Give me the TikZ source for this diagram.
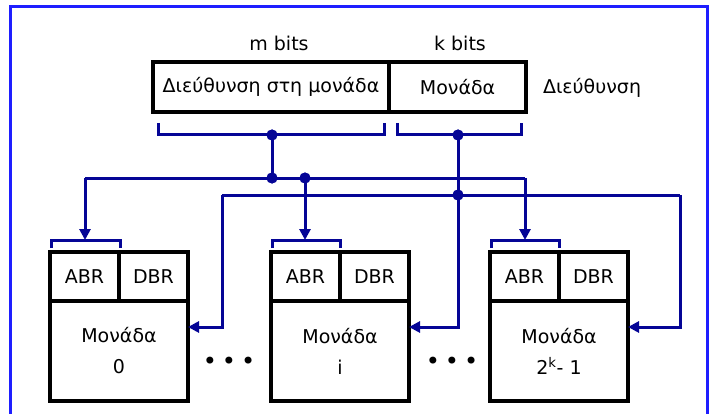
\documentclass[tikz,border=0pt]{standalone}
\usepackage{fontspec}
\setmainfont{DejaVu Sans}
\usetikzlibrary{arrows.meta}
\definecolor{busblue}{RGB}{5,5,150}
\definecolor{frameblue}{RGB}{30,30,255}
\begin{document}
\begin{tikzpicture}[x=1pt,y=-1pt,
  txt/.style={font=\fontsize{19}{31}\selectfont, inner sep=0pt, align=center},
  box/.style={draw=black, line width=3.5pt, inner sep=0pt, txt},
  bus/.style={draw=busblue, line width=3pt},
  arr/.style={bus, -{Triangle[length=11pt,width=11pt]}},
  jdot/.style={circle, fill=busblue, inner sep=0pt, minimum size=11pt},
  bull/.style={txt, font=\fontsize{24}{24}\selectfont}
]
\useasboundingbox (0,0) rectangle (711,414);
\fill[white] (0,0) rectangle (711,414);
% frame
\draw[frameblue, line width=3pt] (10,414) -- (10,7) -- (707,7) -- (707,414);

% address register
\node[box, minimum width=236pt, minimum height=50pt] (aoff) at (271,87) {Διεύθυνση στη μονάδα};
\node[box, minimum width=137pt, minimum height=50pt] (amod) at (457.5,87) {Μονάδα};
\node[txt] (mbits) at (279,43) {m bits};
\node[txt] (kbits) at (460,43) {k bits};
\node[txt] (addr) at (592,88) {Διεύθυνση};

% modules
\node[box, minimum width=69pt, minimum height=49pt] (abr0) at (84.5,276.5) {ABR};
\node[box, minimum width=69pt, minimum height=49pt] (dbr0) at (153.5,276.5) {DBR};
\node[box, minimum width=138pt, minimum height=100pt] (mod0) at (119,351) {Μονάδα\\0};

\node[box, minimum width=69pt, minimum height=49pt] (abri) at (305.5,276.5) {ABR};
\node[box, minimum width=69pt, minimum height=49pt] (dbri) at (374.5,276.5) {DBR};
\node[box, minimum width=138pt, minimum height=100pt] (modi) at (340,351) {Μονάδα\\i};

\node[box, minimum width=69pt, minimum height=49pt] (abrk) at (524.5,276.5) {ABR};
\node[box, minimum width=69pt, minimum height=49pt] (dbrk) at (593.5,276.5) {DBR};
\node[box, minimum width=138pt, minimum height=100pt] (modk) at (559,351) {Μονάδα\\2\textsuperscript{k}- 1};

\node[bull] (dots1) at (229,363) {•\hspace{5pt}•\hspace{5pt}•};
\node[bull] (dots2) at (452,363) {•\hspace{5pt}•\hspace{5pt}•};

% brackets under address fields
\draw[bus] (158,123) -- (158,135) -- (384,135) -- (384,123);
\draw[bus] (397,123) -- (397,135) -- (521,135) -- (521,123);
% brackets over ABRs
\draw[bus] (51,248) -- (51,240) -- (120,240) -- (120,248);
\draw[bus] (272,248) -- (272,240) -- (340,240) -- (340,248);
\draw[bus] (491,248) -- (491,240) -- (559,240) -- (559,248);
\coordinate (b0) at (85,240);
\coordinate (bi) at (305,240);
\coordinate (bk) at (525,240);

% junctions
\node[jdot] (j1) at (272,135) {};
\node[jdot] (j2) at (458,135) {};
\node[jdot] (j3) at (272,178) {};
\node[jdot] (j4) at (305,178) {};
\node[jdot] (j5) at (458,195) {};
\coordinate (aL) at (85,178);
\coordinate (aR) at (525,178);
\coordinate (bL) at (222,195);
\coordinate (bR) at (680,195);
\coordinate (t0) at (188,327);
\coordinate (ti) at (409,327);
\coordinate (tk) at (628,327);

% bus A (unit offset)
\draw[bus] (j1.center) -- (j3.center);
\draw[bus] (aL) -- (aR);
\draw[arr] (aL) -- (b0);
\draw[arr] (j4.center) -- (bi);
\draw[arr] (aR) -- (bk);
% bus B (module select)
\draw[bus] (bL) -- (bR);
\draw[arr] (j2.center) -- (458,327) -- (ti);
\draw[arr] (bL) -- (222,327) -- (t0);
\draw[arr] (bR) -- (680,327) -- (tk);
% redraw dots on top
\node[jdot] at (j1) {};
\node[jdot] at (j2) {};
\node[jdot] at (j3) {};
\node[jdot] at (j4) {};
\node[jdot] at (j5) {};
\end{tikzpicture}
\end{document}
